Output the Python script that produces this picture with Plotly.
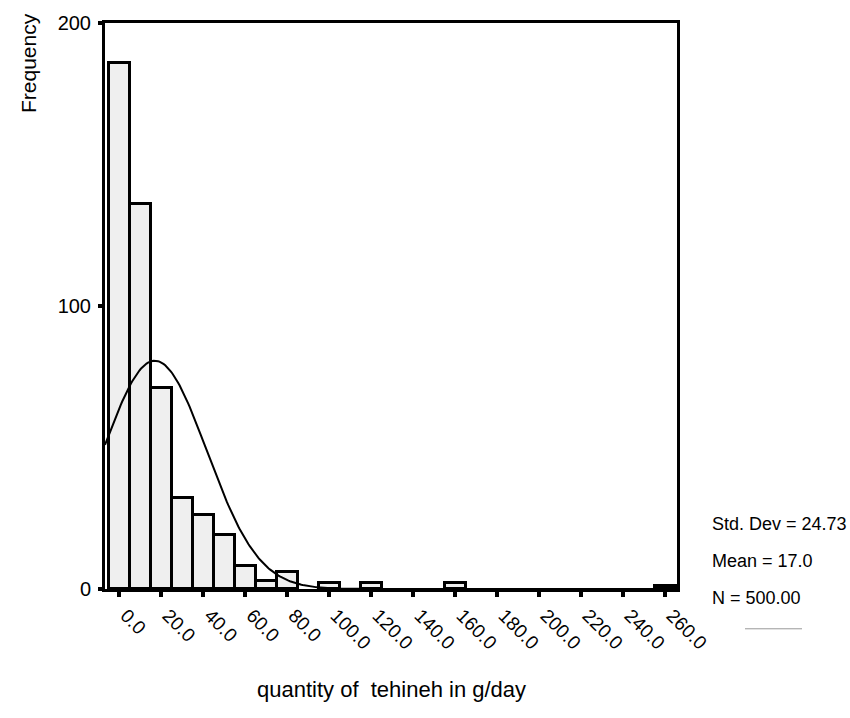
import numpy as np
import plotly.graph_objects as go

# Histogram bins (centres, g/day) and frequencies
bin_centers = [0, 10, 20, 30, 40, 50, 60, 70, 80, 100, 120, 160, 260]
frequencies = [186, 136, 71, 32, 26, 19, 8, 3, 6, 2, 2, 2, 1]
bin_width = 10

# Summary statistics shown on the chart
std_dev = 24.73
mean = 17.0
n_total = 500

tick_values = [0, 20, 40, 60, 80, 100, 120, 140, 160, 180, 200, 220, 240, 260]
tick_labels = ["0.0", "20.0", "40.0", "60.0", "80.0", "100.0", "120.0", "140.0",
               "160.0", "180.0", "200.0", "220.0", "240.0", "260.0"]

x_range = [-6.7, 265.7]

# Fitted normal curve from the displayed statistics
xc = np.linspace(x_range[0], x_range[1], 400)
yc = n_total * bin_width / (std_dev * np.sqrt(2 * np.pi)) * np.exp(-0.5 * ((xc - mean) / std_dev) ** 2)

font_family = "Liberation Sans, Arial, sans-serif"

fig = go.Figure()
fig.add_trace(go.Bar(
    x=bin_centers, y=frequencies, width=bin_width,
    marker=dict(color="#efefef", line=dict(color="black", width=3)),
    hoverinfo="skip",
))
fig.add_trace(go.Scatter(
    x=xc, y=yc, mode="lines",
    line=dict(color="black", width=2),
    hoverinfo="skip",
))

fig.update_layout(
    width=850, height=718,
    margin=dict(l=105, r=173, t=20, b=129),
    paper_bgcolor="white", plot_bgcolor="white",
    showlegend=False, bargap=0,
    font=dict(family=font_family, size=18, color="black"),
)
fig.update_xaxes(
    range=x_range, tickmode="array", tickvals=tick_values, ticktext=tick_labels,
    tickangle=45, ticks="outside", ticklen=5, tickwidth=4, tickcolor="black",
    ticklabelshift=7,
    showline=True, linecolor="black", linewidth=3, mirror=True,
    showgrid=False, zeroline=False, tickfont=dict(size=19),
)
fig.update_yaxes(
    range=[0, 200], tickmode="array", tickvals=[0, 100, 200],
    ticktext=["0", "100", "200"],
    ticks="outside", ticklen=4, tickwidth=4, tickcolor="black",
    ticklabelstandoff=3,
    showline=True, linecolor="black", linewidth=3, mirror=True,
    showgrid=False, zeroline=False, tickfont=dict(size=20),
)

fig.add_annotation(text="Frequency", textangle=-90, xref="paper", yref="paper",
                   x=-77 / 572, y=1, xanchor="center", yanchor="top",
                   yshift=12, showarrow=False, font=dict(size=21))
fig.add_annotation(text="quantity of  tehineh in g/day", xref="paper", yref="paper",
                   x=0.5, y=0, yshift=-86, xanchor="center", yanchor="top",
                   showarrow=False, font=dict(size=22))

stats = [f"Std. Dev = {std_dev:.2f}", f"Mean = {mean:.1f}", f"N = {n_total:.2f}"]
for i, s in enumerate(stats):
    fig.add_annotation(text=s, xref="paper", yref="paper", x=1, xshift=33,
                       y=0, yshift=65 - i * 37, xanchor="left", yanchor="middle",
                       showarrow=False, font=dict(size=18))

fig.add_shape(type="line", xref="paper", yref="paper", x0=1 + 68 / 572, x1=1 + 125 / 572,
              y0=-40 / 569, y1=-40 / 569, line=dict(color="#999999", width=1))

fig.write_html("out.html")
